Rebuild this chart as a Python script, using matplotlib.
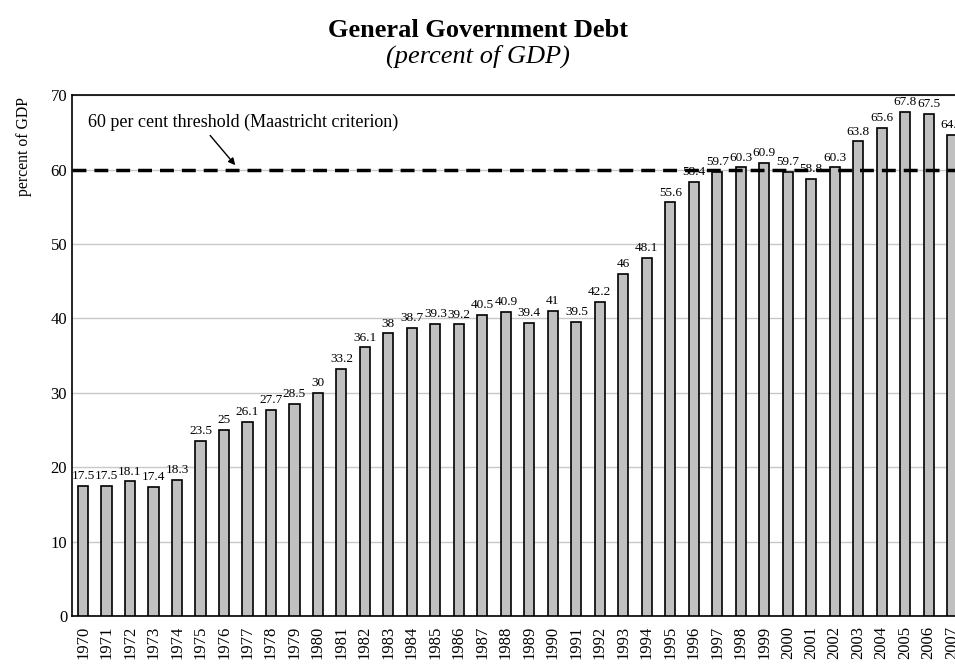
import numpy as np
import matplotlib
matplotlib.use("Agg")
import matplotlib.pyplot as plt

plt.rcParams['font.family'] = ['Liberation Serif', 'DejaVu Serif']

# du lieu no chinh phu (% GDP)
years = list(range(1970, 2008))
debt = [17.5, 17.5, 18.1, 17.4, 18.3, 23.5, 25, 26.1, 27.7, 28.5,
        30, 33.2, 36.1, 38, 38.7, 39.3, 39.2, 40.5, 40.9, 39.4,
        41, 39.5, 42.2, 46, 48.1, 55.6, 58.4, 59.7, 60.3, 60.9,
        59.7, 58.8, 60.3, 63.8, 65.6, 67.8, 67.5, 64.7]
labels = ['17.5', '17.5', '18.1', '17.4', '18.3', '23.5', '25', '26.1', '27.7', '28.5',
          '30', '33.2', '36.1', '38', '38.7', '39.3', '39.2', '40.5', '40.9', '39.4',
          '41', '39.5', '42.2', '46', '48.1', '55.6', '58.4', '59.7', '60.3', '60.9',
          '59.7', '58.8', '60.3', '63.8', '65.6', '67.8', '67.5', '64.7']
threshold = 60
yticks = [0, 10, 20, 30, 40, 50, 60, 70]

fig = plt.figure(figsize=(9.55, 6.66), dpi=100)
ax = fig.add_axes([0.0754, 0.075, 1 - 0.0754, 0.782])

x = np.arange(len(years))
ax.bar(x, debt, width=0.43, color='#c0c0c0', edgecolor='black', linewidth=1.2, zorder=3)

# nhan gia tri tren moi cot
for xi, v, s in zip(x, debt, labels):
    ax.text(xi, v + 0.5, s, ha='center', va='bottom', fontsize=9.5, zorder=5)

# nguong 60%
ax.axhline(threshold, color='black', lw=2.5, linestyle=(0, (4, 2.3)), zorder=4)
ax.text(0.2, 65.2, '60 per cent threshold (Maastricht criterion)',
        fontsize=13, ha='left', va='bottom')
ax.annotate('', xy=(6.48, 60.6), xytext=(5.41, 64.6),
            arrowprops=dict(arrowstyle='-|>', color='black', lw=1,
                            shrinkA=0, shrinkB=0, mutation_scale=10))

ax.set_xlim(-0.47, 37.12)
ax.set_ylim(0, 70)
ax.set_yticks(yticks)
ax.set_xticks(x)
ax.set_xticklabels([str(y) for y in years], rotation=90, fontsize=12)
ax.tick_params(axis='both', length=0, labelsize=12)
ax.tick_params(axis='x', pad=7)
ax.yaxis.grid(True, color='#c8c8c8', lw=1, zorder=0)
ax.set_axisbelow(True)
ax.spines['right'].set_visible(False)
for s in ['left', 'bottom', 'top']:
    ax.spines[s].set_linewidth(1.2)

fig.text(0.025, 0.78, 'percent of GDP', rotation=90, fontsize=11.3,
         ha='center', va='center')
fig.text(0.5, 0.954, 'General Government Debt', fontsize=19, fontweight='bold',
         ha='center', va='center')
fig.text(0.5, 0.915, '(percent of GDP)', fontsize=19, fontstyle='italic',
         ha='center', va='center')

fig.savefig('out.png', dpi=100)
